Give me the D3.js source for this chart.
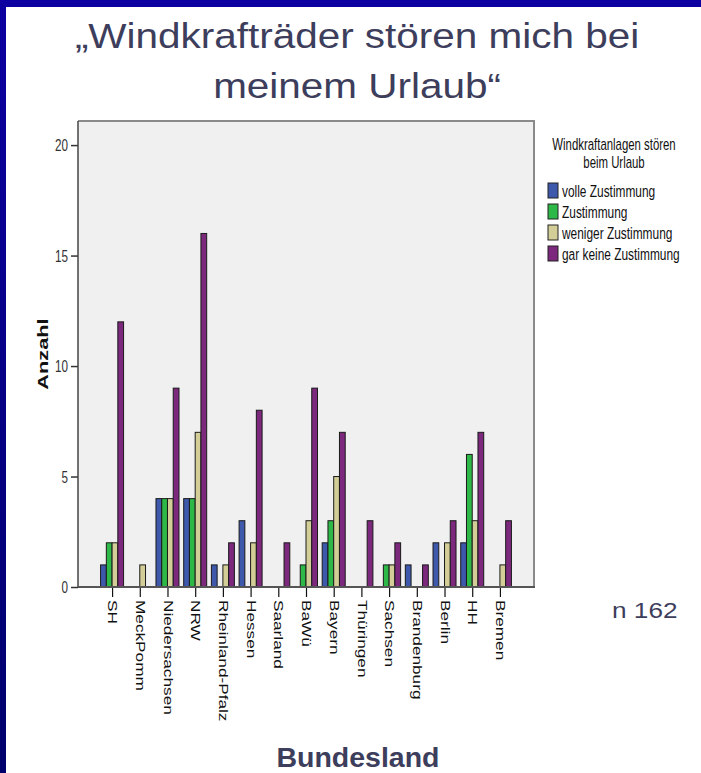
<!DOCTYPE html>
<html>
<head>
<meta charset="utf-8">
<script src="https://cdn.jsdelivr.net/npm/d3@7"></script>
<style>
  body { margin: 0; background: #fff; }
  svg { display: block; font-family: "Liberation Sans", Arial, sans-serif; }
</style>
</head>
<body>
<div id="chart"></div>
<script>
// Bundesländer (x categories)
const states = ["SH", "MeckPomm", "Niedersachsen", "NRW", "Rheinland-Pfalz", "Hessen", "Saarland",
  "BaWü", "Bayern", "Thüringen", "Sachsen", "Brandenburg", "Berlin", "HH", "Bremen"];

const seriesNames = ["volle Zustimmung", "Zustimmung", "weniger Zustimmung", "gar keine Zustimmung"];

// counts per state, one array per answer
const volleZustimmung   = [1, 0, 4, 4, 1, 3, 0, 0, 2, 0, 0, 1, 2, 2, 0];
const zustimmung        = [2, 0, 4, 4, 0, 0, 0, 1, 3, 0, 1, 0, 0, 6, 0];
const wenigerZustimmung = [2, 1, 4, 7, 1, 2, 0, 3, 5, 0, 1, 0, 2, 3, 1];
const garKeineZustimmung = [12, 0, 9, 16, 2, 8, 2, 9, 7, 3, 2, 1, 3, 7, 3];

const yTicks = [0, 5, 10, 15, 20];
const colors = ["#3e58ac", "#2eb848", "#d3ce97", "#7c287d"];

const titleLines = ["„Windkrafträder stören mich bei", "meinem Urlaub“"];
const legendTitle = ["Windkraftanlagen stören", "beim Urlaub"];

const seriesValues = [volleZustimmung, zustimmung, wenigerZustimmung, garKeineZustimmung];
const data = [];
states.forEach(function(s, i) {
  seriesNames.forEach(function(n, j) {
    data.push({state: s, series: n, value: seriesValues[j][i]});
  });
});

const W = 701, H = 773;
const plot = {left: 78, top: 121, right: 534, bottom: 587};
const stretch = 1.38; // the chart image is stretched vertically
const textColor = "#3d3d5c";

const svg = d3.select("#chart").append("svg")
  .attr("width", W)
  .attr("height", H);

svg.append("rect").attr("width", W).attr("height", H).attr("fill", "#fff");

// slide frame
const grad = svg.append("defs").append("linearGradient")
  .attr("id", "side").attr("x1", 0).attr("y1", 0).attr("x2", 0).attr("y2", 1);
grad.append("stop").attr("offset", "0%").attr("stop-color", "#0c00a0");
grad.append("stop").attr("offset", "100%").attr("stop-color", "#00006c");
svg.append("rect").attr("x", 0).attr("y", 0).attr("width", W).attr("height", 7).attr("fill", "#0c00a0");
svg.append("rect").attr("x", 0).attr("y", 0).attr("width", 6).attr("height", H).attr("fill", "url(#side)");

// slide title
titleLines.forEach(function(t, i) {
  svg.append("text")
    .attr("transform", "translate(357," + (48 + i * 50) + ") scale(1.14,1)")
    .attr("text-anchor", "middle")
    .attr("font-size", 35.5)
    .attr("fill", textColor)
    .text(t);
});

var x = d3.scalePoint()
  .domain(states)
  .range([plot.left, plot.right])
  .padding(1.23);

var xs = d3.scaleBand()
  .domain(seriesNames)
  .range([-11.5, 11.5]);

var y = d3.scaleLinear()
  .domain([0, 21.09])
  .range([plot.bottom, plot.top]);

var color = d3.scaleOrdinal().domain(seriesNames).range(colors);

// plot background
svg.append("rect")
  .attr("x", plot.left).attr("y", plot.top)
  .attr("width", plot.right - plot.left)
  .attr("height", plot.bottom - plot.top)
  .attr("fill", "#f0f0f0");

svg.append("path")
  .attr("d", "M" + plot.left + "," + plot.top + "H" + plot.right + "V" + plot.bottom)
  .attr("fill", "none").attr("stroke", "#8a8a8a").attr("stroke-width", 2);

// bars
svg.append("g").selectAll("rect")
  .data(data.filter(function(d) { return d.value > 0; }))
  .enter()
  .append("rect")
  .attr("x", function(d) { return x(d.state) + xs(d.series); })
  .attr("y", function(d) { return y(d.value); })
  .attr("width", xs.bandwidth())
  .attr("height", function(d) { return y(0) - y(d.value); })
  .attr("fill", function(d) { return color(d.series); })
  .attr("stroke", "#1a1a1a")
  .attr("stroke-width", 1);

// y axis
var yAxis = svg.append("g")
  .attr("transform", "translate(" + plot.left + ",0)")
  .call(d3.axisLeft(y).tickValues(yTicks).tickSize(7).tickPadding(3));
yAxis.select(".domain").remove();
yAxis.selectAll("line").attr("stroke", "#333").attr("stroke-width", 1.5);
yAxis.selectAll("text")
  .attr("font-family", "Liberation Sans, Arial, sans-serif")
  .attr("font-size", 11.7)
  .attr("fill", "#333")
  .attr("dy", "0.36em")
  .attr("transform", "scale(1," + stretch + ")");

svg.append("line")
  .attr("x1", plot.left).attr("x2", plot.left)
  .attr("y1", plot.top).attr("y2", plot.bottom)
  .attr("stroke", "#444").attr("stroke-width", 1.5);

// x axis
var xAxis = svg.append("g")
  .attr("transform", "translate(0," + plot.bottom + ")")
  .call(d3.axisBottom(x).tickSize(10));
xAxis.select(".domain").remove();
xAxis.selectAll("line").attr("stroke", "#111").attr("stroke-width", 1.2);
xAxis.selectAll("text")
  .attr("font-family", "Liberation Sans, Arial, sans-serif")
  .attr("font-size", 12.3)
  .attr("fill", "#111")
  .attr("x", 13 / 1.4)
  .attr("y", 0)
  .attr("dy", "0.35em")
  .attr("text-anchor", "start")
  .attr("transform", "rotate(90) scale(1.4,1)");

svg.append("line")
  .attr("x1", plot.left).attr("x2", plot.right + 1)
  .attr("y1", plot.bottom).attr("y2", plot.bottom)
  .attr("stroke", "#555").attr("stroke-width", 2);

// y axis title
svg.append("text")
  .attr("transform", "translate(48," + ((plot.top + plot.bottom) / 2) + ") rotate(-90) scale(1.45,1)")
  .attr("text-anchor", "middle")
  .attr("font-size", 15)
  .attr("font-weight", "bold")
  .attr("fill", "#111")
  .text("Anzahl");

// legend
legendTitle.forEach(function(t, i) {
  svg.append("text")
    .attr("transform", "translate(614," + (150 + i * 18) + ") scale(1," + stretch + ")")
    .attr("text-anchor", "middle")
    .attr("font-size", 11.4)
    .attr("fill", "#111")
    .text(t);
});

var legend = svg.append("g").selectAll("g")
  .data(seriesNames)
  .enter()
  .append("g")
  .attr("transform", function(d, i) { return "translate(548," + (183 + i * 21) + ")"; });

legend.append("rect")
  .attr("width", 10).attr("height", 15)
  .attr("fill", function(d) { return color(d); })
  .attr("stroke", "#222").attr("stroke-width", 1);

legend.append("text")
  .attr("transform", "translate(14,14) scale(1," + stretch + ")")
  .attr("font-size", 11.9)
  .attr("fill", "#111")
  .text(function(d) { return d; });

// sample size note
svg.append("text")
  .attr("transform", "translate(612,618) scale(1.19,1)")
  .attr("font-size", 22)
  .attr("fill", textColor)
  .text("n 162");

// x axis title
svg.append("text")
  .attr("x", 358).attr("y", 767)
  .attr("text-anchor", "middle")
  .attr("font-size", 28.5)
  .attr("font-weight", "bold")
  .attr("fill", textColor)
  .text("Bundesland");
</script>
</body>
</html>
